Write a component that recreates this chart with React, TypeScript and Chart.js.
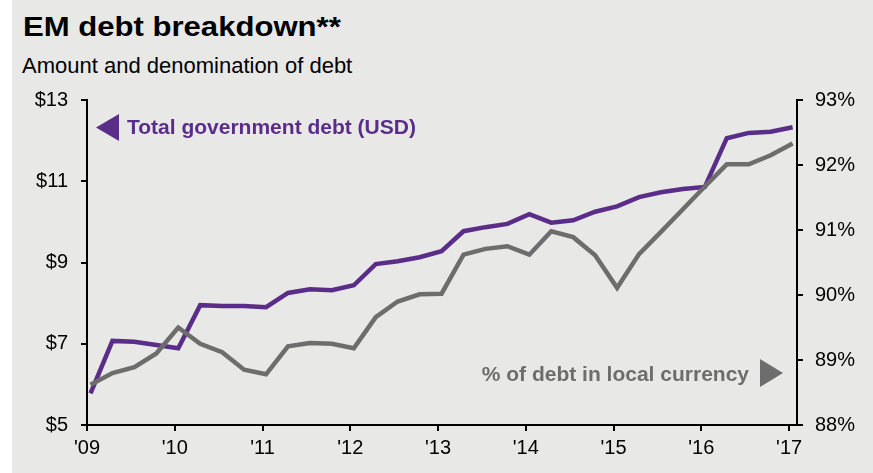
import React, { useEffect, useRef } from "react";
import { Chart, registerables } from "chart.js";

Chart.register(...registerables);

const titleText = "EM debt breakdown**";
const subtitleText = "Amount and denomination of debt";
const usdLabel = "Total government debt (USD)";
const localLabel = "% of debt in local currency";

const quarters = [
  "1Q09", "2Q09", "3Q09", "4Q09",
  "1Q10", "2Q10", "3Q10", "4Q10",
  "1Q11", "2Q11", "3Q11", "4Q11",
  "1Q12", "2Q12", "3Q12", "4Q12",
  "1Q13", "2Q13", "3Q13", "4Q13",
  "1Q14", "2Q14", "3Q14", "4Q14",
  "1Q15", "2Q15", "3Q15", "4Q15",
  "1Q16", "2Q16", "3Q16", "4Q16",
  "1Q17",
];

// Total government debt, USD trillions (left axis)
const usdDebt = [
  5.78, 7.07, 7.05, 6.97,
  6.89, 7.95, 7.93, 7.93,
  7.9, 8.25, 8.34, 8.32,
  8.44, 8.96, 9.03, 9.13,
  9.28, 9.77, 9.87, 9.95,
  10.19, 9.98, 10.04, 10.25,
  10.38, 10.61, 10.73, 10.81,
  10.86, 12.06, 12.19, 12.22,
  12.33,
];

// % of debt in local currency (right axis)
const localShare = [
  88.62, 88.8, 88.89, 89.1,
  89.5, 89.25, 89.12, 88.85,
  88.78, 89.21, 89.26, 89.25,
  89.18, 89.66, 89.9, 90.01,
  90.02, 90.62, 90.71, 90.75,
  90.62, 90.98, 90.89, 90.61,
  90.11, 90.63, 90.97, 91.32,
  91.67, 92.01, 92.01, 92.15,
  92.33,
];

const leftTicks = [5, 7, 9, 11, 13];
const rightTicks = [88, 89, 90, 91, 92, 93];
const yearTicks = [2009, 2010, 2011, 2012, 2013, 2014, 2015, 2016, 2017];

const PURPLE = "#5a2d89";
const GRAY = "#6d6d6d";
const BG = "#e8e8e7";
const FONT = "'Liberation Sans', Arial, Helvetica, sans-serif";

function quarterToYear(q: string): number {
  const qn = parseInt(q.charAt(0), 10);
  const yr = 2000 + parseInt(q.slice(2), 10);
  return yr + (qn - 1) * 0.25 + 0.04;
}

const annotationPlugin = {
  id: "seriesLabels",
  afterDatasetsDraw(chart: any) {
    const { ctx, chartArea: a } = chart;
    ctx.save();
    ctx.font = `bold 21px ${FONT}`;
    ctx.textBaseline = "middle";
    // purple label with left-pointing triangle
    ctx.fillStyle = PURPLE;
    ctx.beginPath();
    ctx.moveTo(a.left + 9, a.top + 27.5);
    ctx.lineTo(a.left + 32, a.top + 14);
    ctx.lineTo(a.left + 32, a.top + 41);
    ctx.closePath();
    ctx.fill();
    ctx.textAlign = "left";
    ctx.fillText(usdLabel, a.left + 40, a.top + 28.5);
    // gray label with right-pointing triangle
    ctx.fillStyle = GRAY;
    ctx.beginPath();
    ctx.moveTo(a.right - 14, a.bottom - 52);
    ctx.lineTo(a.right - 37, a.bottom - 66);
    ctx.lineTo(a.right - 37, a.bottom - 38);
    ctx.closePath();
    ctx.fill();
    ctx.textAlign = "right";
    ctx.fillText(localLabel, a.right - 48, a.bottom - 50);
    ctx.restore();
  },
};

export default function App() {
  const canvasRef = useRef<HTMLCanvasElement | null>(null);

  useEffect(() => {
    const canvas = canvasRef.current;
    if (!canvas) return;
    const xs = quarters.map(quarterToYear);
    const axisCommon = {
      border: { display: true, color: "#000", width: 2 },
      grid: {
        display: true,
        drawOnChartArea: false,
        drawTicks: true,
        tickLength: 6,
        color: "#000",
        lineWidth: 2,
      },
    };
    const chart = new Chart(canvas, {
      type: "line",
      data: {
        datasets: [
          {
            label: localLabel,
            data: xs.map((x, i) => ({ x, y: localShare[i] })),
            borderColor: GRAY,
            backgroundColor: GRAY,
            borderWidth: 4.5,
            pointRadius: 0,
            tension: 0,
            yAxisID: "yRight",
          },
          {
            label: usdLabel,
            data: xs.map((x, i) => ({ x, y: usdDebt[i] })),
            borderColor: PURPLE,
            backgroundColor: PURPLE,
            borderWidth: 4.5,
            pointRadius: 0,
            tension: 0,
            yAxisID: "yLeft",
          },
        ],
      },
      options: {
        animation: false,
        responsive: false,
        devicePixelRatio: 1,
        layout: { padding: { top: 100, left: 0, right: 0, bottom: 0 } },
        plugins: {
          legend: { display: false },
          tooltip: { enabled: false },
          title: { display: false },
        },
        scales: {
          x: {
            type: "linear",
            position: "bottom",
            min: yearTicks[0],
            max: yearTicks[yearTicks.length - 1] + 0.09,
            ...axisCommon,
            afterFit: (s: any) => {
              s.height = 48;
            },
            afterBuildTicks: (s: any) => {
              s.ticks = yearTicks.map((v) => ({ value: v }));
            },
            ticks: {
              font: { family: FONT, size: 20 },
              color: "#000",
              padding: 5,
              maxRotation: 0,
              autoSkip: false,
              callback: (v: any) => "'" + String(Number(v) % 100).padStart(2, "0"),
            },
          },
          yLeft: {
            type: "linear",
            position: "left",
            min: leftTicks[0],
            max: leftTicks[leftTicks.length - 1],
            ...axisCommon,
            afterFit: (s: any) => {
              s.width = 87;
            },
            afterBuildTicks: (s: any) => {
              s.ticks = leftTicks.map((v) => ({ value: v }));
            },
            ticks: {
              font: { family: FONT, size: 20 },
              color: "#000",
              padding: 13,
              callback: (v: any) => "$" + v,
            },
          },
          yRight: {
            type: "linear",
            position: "right",
            min: rightTicks[0],
            max: rightTicks[rightTicks.length - 1],
            ...axisCommon,
            afterFit: (s: any) => {
              s.width = 76;
            },
            afterBuildTicks: (s: any) => {
              s.ticks = rightTicks.map((v) => ({ value: v }));
            },
            ticks: {
              font: { family: FONT, size: 20 },
              color: "#000",
              padding: 12,
              callback: (v: any) => v + "%",
            },
          },
        },
      },
      plugins: [annotationPlugin],
    } as any);
    return () => chart.destroy();
  }, []);

  return (
    <div
      style={{
        position: "absolute",
        left: 0,
        top: 0,
        width: 873,
        height: 473,
        background: "#ffffff",
        overflow: "hidden",
      }}
    >
      <div
        style={{
          position: "absolute",
          left: 12,
          top: 0,
          width: 861,
          height: 473,
          background: BG,
        }}
      />
      <div
        style={{
          position: "absolute",
          left: 23,
          top: 13,
          fontFamily: FONT,
          fontWeight: "bold",
          fontSize: 28,
          lineHeight: "28px",
          color: "#000",
          whiteSpace: "nowrap",
          transform: "scaleX(1.11)",
          transformOrigin: "left top",
        }}
      >
        {titleText}
      </div>
      <div
        style={{
          position: "absolute",
          left: 22,
          top: 55,
          fontFamily: FONT,
          fontSize: 22,
          lineHeight: "22px",
          color: "#000",
          whiteSpace: "nowrap",
        }}
      >
        {subtitleText}
      </div>
      <canvas
        ref={canvasRef}
        width={873}
        height={473}
        style={{ position: "absolute", left: 0, top: 0, width: 873, height: 473 }}
      />
    </div>
  );
}
